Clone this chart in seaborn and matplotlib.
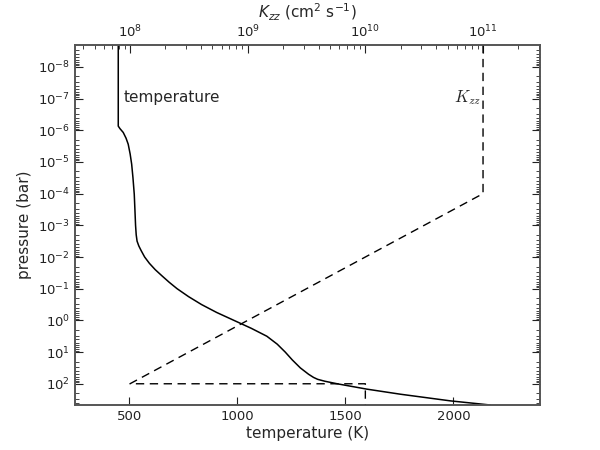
import matplotlib
matplotlib.use("Agg")
import matplotlib.pyplot as plt
from matplotlib.ticker import LogLocator, NullFormatter
import seaborn as sns
import numpy as np
import pandas as pd

# temperature profile (log10 pressure in bar, temperature in K)
logp_temp = [-8.69, -6.13, -6.05, -5.93, -5.75, -5.56, -5.25, -4.93, -4.5, -3.98,
             -3.5, -3.0, -2.7, -2.5, -2.35, -2.2, -2.0, -1.8, -1.6, -1.4,
             -1.2, -1.0, -0.75, -0.5, -0.25, 0.0, 0.25, 0.5, 0.75, 1.0,
             1.25, 1.5, 1.7, 1.8, 1.86, 1.92, 2.0, 2.17, 2.33, 2.54, 2.67]
temperature = [450, 450, 458, 473, 486, 496, 505, 512, 518, 524,
               527, 530, 533, 537, 545, 556, 572, 594, 621, 653,
               686, 722, 775, 835, 905, 985, 1065, 1137, 1185, 1222,
               1255, 1292, 1330, 1353, 1372, 1405, 1462, 1600, 1755, 1986, 2170]

# eddy diffusion profile (log10 pressure, log10 Kzz)
logp_kzz = [-8.69, -4.0, 2.0, 2.0, 2.67]
log_kzz = [11.0, 11.0, 8.0, 10.0, 10.0]

temp_df = pd.DataFrame({"pressure": np.power(10.0, logp_temp), "temperature": temperature})
kzz_df = pd.DataFrame({"pressure": np.power(10.0, logp_kzz), "kzz": np.power(10.0, log_kzz)})

sns.set_style("white")
plt.rcParams["font.family"] = ["DejaVu Sans"]
plt.rcParams["xtick.direction"] = "in"
plt.rcParams["ytick.direction"] = "in"

fig, ax = plt.subplots(figsize=(6, 4.5), dpi=100)
fig.subplots_adjust(left=0.125, right=0.9, bottom=0.1, top=0.9)

# temperature on the bottom axis
sns.lineplot(data=temp_df, x="temperature", y="pressure", sort=False, estimator=None,
             color="black", linewidth=1.1, ax=ax)
ax.set_yscale("log")
ax.set_ylim(10 ** 2.67, 10 ** -8.69)
ax.set_xlim(250, 2400)
ax.set_xticks([500, 1000, 1500, 2000])
ax.set_yticks([10.0 ** k for k in range(-8, 3)])
ax.yaxis.set_minor_locator(LogLocator(base=10, subs=np.arange(2, 10), numticks=100))
ax.yaxis.set_minor_formatter(NullFormatter())
ax.set_xlabel("temperature (K)", fontsize=11, labelpad=2)
ax.set_ylabel("pressure (bar)", fontsize=11)
ax.tick_params(axis="both", labelsize=9.5, length=6, width=0.8, colors="#222222")
ax.tick_params(axis="y", which="both", left=True, right=True)
ax.tick_params(axis="y", which="minor", length=3, width=0.6)
ax.tick_params(axis="x", bottom=True, top=False)

# Kzz on a twin top axis
ax2 = ax.twiny()
sns.lineplot(data=kzz_df, x="kzz", y="pressure", sort=False, estimator=None,
             color="black", linewidth=1.0, ax=ax2)
ax2.lines[0].set_dashes([6, 4])  # longer dashes like the original
ax2.set_xscale("log")
ax2.set_xlim(10 ** 7.533, 10 ** 11.484)
ax2.set_ylim(10 ** 2.67, 10 ** -8.69)
ax2.set_ylabel("")
ax2.set_xlabel("$K_{zz}$ (cm$^2$ s$^{-1}$)", fontsize=11, labelpad=4)
ax2.tick_params(axis="x", which="both", top=True, bottom=False, labelsize=9.5, colors="#222222")
ax2.tick_params(axis="x", which="major", length=6)
ax2.tick_params(axis="x", which="minor", length=3, width=0.6)

for a in [ax, ax2]:
    for s in a.spines.values():
        s.set_color("#555555")
        s.set_linewidth(1.2)

# labels on the curves
ax.text(0.105, 0.855, "temperature", transform=ax.transAxes, fontsize=11, va="center")
ax.text(0.815, 0.855, "$K_{zz}$", transform=ax.transAxes, fontsize=12, va="center",
        math_fontfamily="cm")

plt.savefig("out.png", dpi=100)
